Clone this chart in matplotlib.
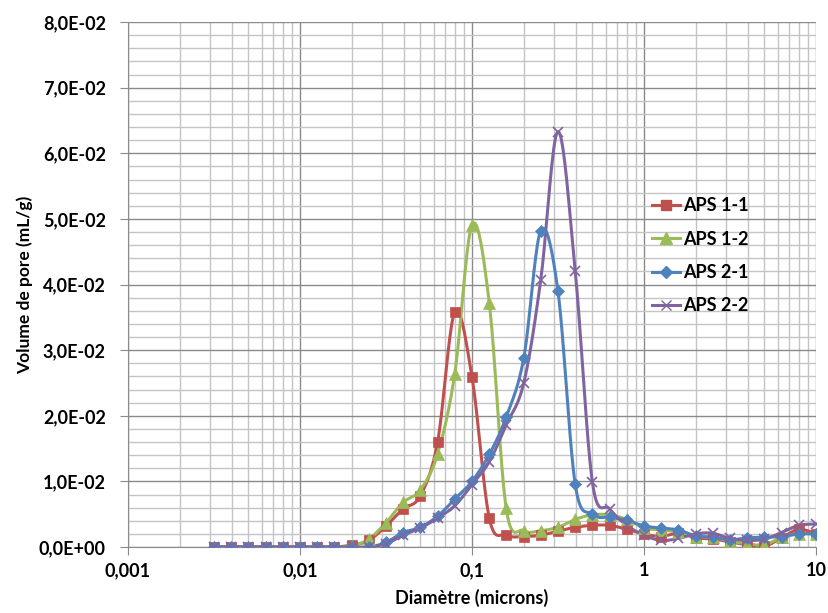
import numpy as np
import matplotlib
matplotlib.use('Agg')
from matplotlib import pyplot as plt
from matplotlib.ticker import FixedLocator, FuncFormatter, MultipleLocator

diametre = [0.00316, 0.00398, 0.00501, 0.00631, 0.00794, 0.01, 0.0126, 0.0158, 0.02, 0.0251,
            0.0316, 0.0398, 0.0501, 0.0631, 0.0794, 0.1, 0.126, 0.158, 0.2, 0.251,
            0.316, 0.398, 0.501, 0.631, 0.794, 1.0, 1.26, 1.58, 2.0, 2.51,
            3.16, 3.98, 5.01, 6.31, 7.94, 10.0]

aps_1_1 = [0, 0, 0, 0, 0, 0, 0, 0, 0.0003, 0.001,
           0.0032, 0.0058, 0.0078, 0.016, 0.0358, 0.0259, 0.0044, 0.0018, 0.0016, 0.0018,
           0.0024, 0.003, 0.0033, 0.0033, 0.0027, 0.002, 0.0016, 0.0021, 0.0014, 0.0012,
           0.0008, 0.0003, 0.0001, 0.0014, 0.0027, 0.002]
aps_1_2 = [0, 0, 0, 0, 0, 0, 0, 0, 0.0002, 0.0012,
           0.0037, 0.0068, 0.0087, 0.0142, 0.0264, 0.0491, 0.0372, 0.0059, 0.0025, 0.0025,
           0.003, 0.0042, 0.0049, 0.0049, 0.0042, 0.0029, 0.0026, 0.0023, 0.0016, 0.0015,
           0.0009, 0.0005, 0.0003, 0.0015, 0.002, 0.002]
aps_2_1 = [0, 0, 0, 0, 0, 0, 0, 0, 0, 0,
           0.0007, 0.0022, 0.003, 0.0047, 0.0073, 0.01, 0.0141, 0.0198, 0.0288, 0.0482,
           0.039, 0.0096, 0.005, 0.0045, 0.0041, 0.0032, 0.0029, 0.0026, 0.0017, 0.0015,
           0.0011, 0.0014, 0.0015, 0.0016, 0.002, 0.002]
aps_2_2 = [0, 0, 0, 0, 0, 0, 0, 0, 0, 0,
           0.0005, 0.0018, 0.0029, 0.0044, 0.0063, 0.0095, 0.013, 0.0186, 0.025, 0.0407,
           0.0633, 0.0421, 0.0099, 0.0058, 0.0033, 0.0018, 0.001, 0.0013, 0.002, 0.0021,
           0.0013, 0.001, 0.0012, 0.0022, 0.0033, 0.0035]

series = [
    ('APS 1-1', aps_1_1, '#C0504D', 's', 7),
    ('APS 1-2', aps_1_2, '#9BBB59', '^', 8),
    ('APS 2-1', aps_2_1, '#4F81BD', 'D', 6),
    ('APS 2-2', aps_2_2, '#8064A2', 'x', 7),
]


def lissage(x, y, n=20):
    # courbe lissee style Excel (Catmull-Rom en echelle log)
    lx = np.log10(np.array(x, dtype=float))
    yy = np.array(y, dtype=float)
    px = np.concatenate(([lx[0]], lx, [lx[-1]]))
    py = np.concatenate(([yy[0]], yy, [yy[-1]]))
    xs, ys = [], []
    for i in range(1, len(px) - 2):
        t = np.linspace(0, 1, n, endpoint=False)
        for p, out in ((px, xs), (py, ys)):
            p0, p1, p2, p3 = p[i - 1], p[i], p[i + 1], p[i + 2]
            c1 = p1 + (p2 - p0) / 6
            c2 = p2 - (p3 - p1) / 6
            out.extend((1 - t) ** 3 * p1 + 3 * (1 - t) ** 2 * t * c1 + 3 * (1 - t) * t ** 2 * c2 + t ** 3 * p2)
    xs.append(lx[-1])
    ys.append(yy[-1])
    return 10 ** np.array(xs), np.array(ys)


plt.rcParams['font.family'] = ['Lato', 'DejaVu Sans']
plt.rcParams['font.weight'] = 'bold'

fig = plt.figure(figsize=(8.29, 6.13), dpi=100)
ax = fig.add_axes([128 / 829, 1 - 547 / 613, (816 - 128) / 829, (547 - 22) / 613])

for nom, valeurs, couleur, marq, taille in series:
    xs, ys = lissage(diametre, valeurs)
    ax.plot(xs, ys, color=couleur, lw=2.2, zorder=3)
    ax.plot(diametre, valeurs, ls='none', marker=marq, ms=taille, color=couleur,
            mew=1.2 if marq == 'x' else 0.5, zorder=4)
    ax.plot([], [], color=couleur, lw=2.2, marker=marq, ms=taille, label=nom)

ax.set_xscale('log')
ax.set_xlim(0.001, 10)
ax.set_ylim(0, 0.08)
ax.yaxis.set_major_locator(MultipleLocator(0.01))
ax.yaxis.set_minor_locator(MultipleLocator(0.002))
ax.xaxis.set_major_locator(FixedLocator([0.001, 0.01, 0.1, 1, 10]))
ax.xaxis.set_major_formatter(FuncFormatter(lambda v, p: ('%g' % v).replace('.', ',')))
ax.yaxis.set_major_formatter(FuncFormatter(lambda v, p: ('%.1E' % v).replace('.', ',')))

ax.grid(which='major', color='#8a8a8a', lw=1.0)
ax.grid(which='minor', color='#c4c4c4', lw=1.0)
ax.set_axisbelow(True)
for s in ['top', 'right']:
    ax.spines[s].set_visible(False)
for s in ['left', 'bottom']:
    ax.spines[s].set_color('#8a8a8a')
ax.tick_params(which='major', length=6, color='#8a8a8a', labelsize=13)
ax.tick_params(which='minor', length=0)
ax.tick_params(axis='y', pad=10)
ax.tick_params(axis='x', pad=5)

ax.set_xlabel('Diamètre (microns)', fontsize=13, fontweight='bold', labelpad=7)
ax.set_ylabel('Volume de pore (mL/g)', fontsize=12.5, fontweight='bold', labelpad=4)

leg = ax.legend(loc='upper left', bbox_to_anchor=(0.738, 0.697), frameon=False,
                fontsize=13, handlelength=1.55, labelspacing=0.9, handletextpad=0.2)

fig.savefig('out.png', dpi=100)
